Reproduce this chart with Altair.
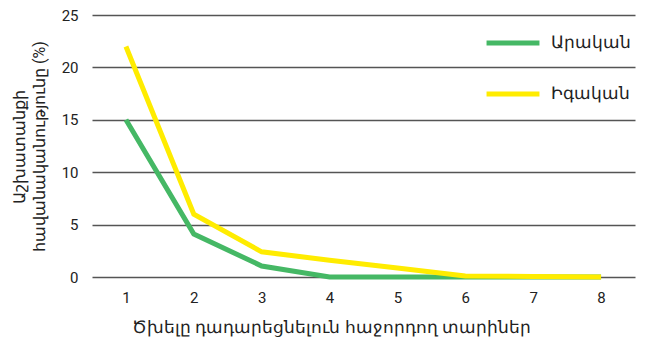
import altair as alt
import pandas as pd

years = [1, 2, 3, 4, 5, 6, 7, 8]
male = [15.0, 4.1, 1.05, 0.0, 0.0, 0.0, 0.0, 0.0]
female = [22.0, 6.0, 2.4, 1.6, 0.85, 0.1, 0.05, 0.0]
series_names = ["Արական", "Իգական"]
colors = ["#45b865", "#ffec00"]

rows = []
for i, y in enumerate(years):
    rows.append({"year": y, "value": male[i], "series": series_names[0], "ord": 0})
for i, y in enumerate(years):
    rows.append({"year": y, "value": female[i], "series": series_names[1], "ord": 1})
df = pd.DataFrame(rows)

FONT = "Roboto"

chart = alt.Chart(df).mark_line(strokeWidth=5, strokeCap="butt", strokeJoin="miter").encode(
    x=alt.X("year:O", scale=alt.Scale(type="point", padding=0.5),
            axis=alt.Axis(title="Ծխելը դադարեցնելուն հաջորդող տարիներ", labelAngle=0,
                          ticks=False, domain=False, grid=False, labelPadding=13,
                          labelFontSize=15, labelColor="#222", titleFontSize=17,
                          titleFontWeight="normal", titleColor="#222", titlePadding=14,
                          titleX=239)),
    y=alt.Y("value:Q", scale=alt.Scale(domain=[0, 25], nice=False),
            axis=alt.Axis(title=["Աշխատանքի", "հավանականությունը (%)"],
                          values=[0, 5, 10, 15, 20, 25], ticks=False, domain=False,
                          grid=True, gridColor="#555555", gridWidth=1.5,
                          labelPadding=14, labelFontSize=15, labelColor="#222",
                          titleFontSize=16, titleFontWeight="normal", titleColor="#222",
                          titlePadding=14, titleLineHeight=20)),
    color=alt.Color("series:N", scale=alt.Scale(domain=series_names, range=colors),
                    legend=alt.Legend(title=None, orient="none", legendX=392, legendY=-1,
                                      symbolType="stroke", symbolSize=2800,
                                      symbolStrokeWidth=5, labelFontSize=17,
                                      labelColor="#222", rowPadding=12, labelOffset=9)),
    order=alt.Order("ord:Q"),
    detail="series:N",
).properties(
    width=543, height=262,
    autosize=alt.AutoSizeParams(type="none"),
    padding={"left": 84, "top": 7, "right": 10, "bottom": 62},
).configure(font=FONT).configure_view(stroke=None)

chart.save("out.html", embed_options={"renderer": "svg", "actions": False})
